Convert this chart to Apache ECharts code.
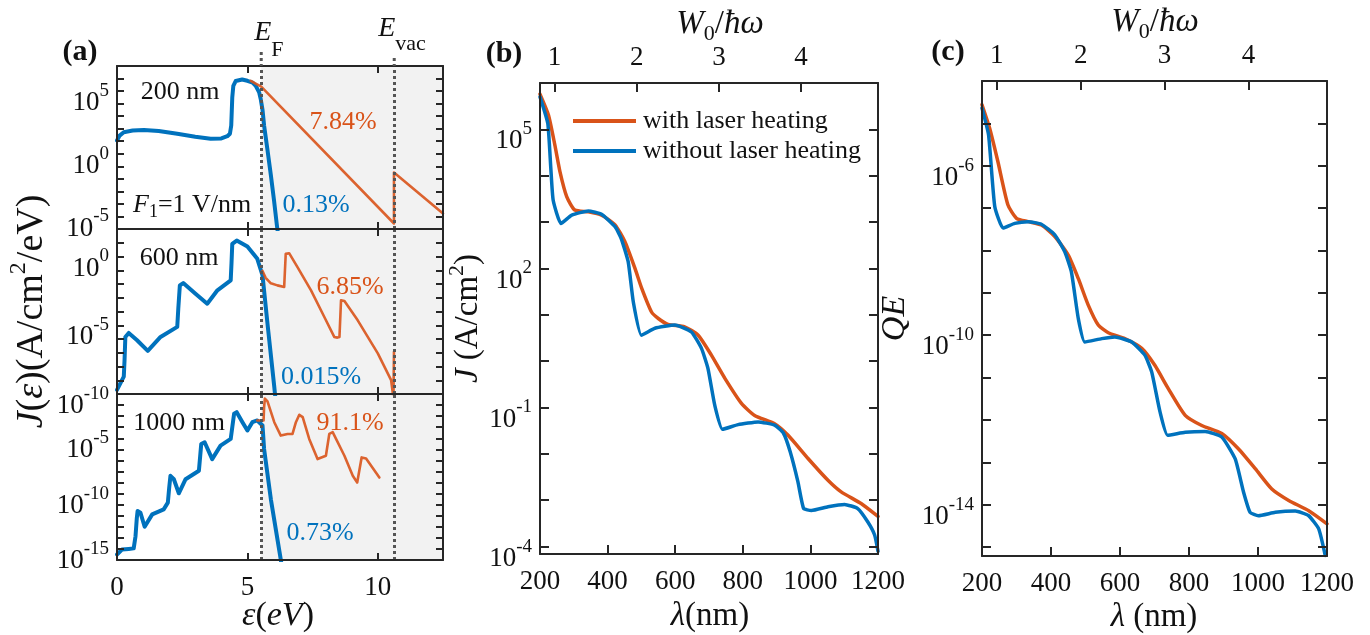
<!DOCTYPE html>
<html>
<head>
<meta charset="utf-8">
<script src="https://cdn.jsdelivr.net/npm/echarts@6/dist/echarts.min.js"></script>
<style>html,body{margin:0;padding:0;background:#fff}#c{width:1370px;height:635px}</style>
</head>
<body>
<div id="c"></div>
<script>
// ---------------- constants ----------------
const EF = 5.53, EVAC = 10.63;      // eV
const W0 = 5.1, HC = 1239.84;       // work function (eV), hc (eV nm)

// ---------------- panel (a): energy distributions, log10 J ----------------
const a200_blue_eV   = [0, 0.1, 0.26, 0.6, 1.03, 1.6, 2.31, 3.0, 3.59, 4.0, 4.23, 4.33, 4.38, 4.42, 4.46, 4.55, 4.62, 4.8, 5.0, 5.2, 5.32, 5.45, 5.51, 5.58, 5.64, 5.77, 5.90, 6.02, 6.13, 6.2];
const a200_blue_log  = [1.06, 1.45, 1.72, 1.85, 1.90, 1.82, 1.59, 1.35, 1.19, 1.22, 1.40, 1.6, 2.25, 4.5, 5.42, 5.8, 5.90, 5.92, 5.82, 5.68, 5.42, 4.9, 4.37, 3.5, 2.25, 0.3, -1.72, -3.7, -5.69, -6.8];
const a200_orange_eV  = [5.13, 5.3, 5.53, 10.62, 10.62, 12.5];
const a200_orange_log = [5.82, 5.62, 5.35, -5.56, -1.5, -4.76];

const a600_blue_eV   = [0, 0.26, 0.29, 0.32, 0.45, 0.77, 1.18, 1.67, 2.31, 2.35, 2.41, 2.54, 3.01, 3.46, 3.85, 4.36, 4.39, 4.42, 4.59, 5.0, 5.38, 5.58, 5.77, 6.03, 6.12];
const a600_blue_log  = [-9.7, -8.74, -7.5, -5.85, -5.56, -6.09, -6.86, -5.85, -5.12, -3.8, -2.10, -1.93, -2.71, -3.43, -2.46, -1.74, -0.5, 0.92, 1.16, 0.72, -0.17, -1.38, -4.88, -9.47, -11.2];
const a600_orange_eV  = [5.58, 5.7, 5.9, 6.15, 6.41, 6.44, 6.47, 6.6, 6.92, 7.44, 7.95, 8.33, 8.45, 8.53, 8.59, 8.72, 9.23, 10.0, 10.51, 10.6, 10.62, 10.62];
const a600_orange_log = [-1.05, -1.55, -1.95, -2.1, -2.22, -1.0, 0.19, 0.24, -0.77, -2.46, -4.40, -5.85, -5.9, -5.85, -3.19, -3.24, -4.64, -7.05, -8.99, -10.3, -10.3, -6.93];

const a1000_blue_eV  = [0, 0.19, 0.45, 0.64, 0.71, 0.76, 0.79, 0.9, 1.06, 1.35, 1.79, 1.95, 2.0, 2.05, 2.18, 2.37, 2.63, 3.14, 3.19, 3.23, 3.36, 3.65, 3.97, 4.36, 4.42, 4.49, 4.59, 4.81, 5.0, 5.19, 5.38, 5.58, 5.64, 5.9, 6.28, 6.35];
const a1000_blue_log = [-15.5, -15.06, -15.0, -14.95, -13.85, -12.2, -11.58, -11.73, -13.0, -11.88, -11.42, -10.82, -9.5, -8.39, -8.70, -9.97, -8.70, -7.94, -6.6, -5.52, -5.36, -6.88, -5.67, -5.06, -4.0, -2.79, -2.64, -3.55, -4.30, -3.55, -3.39, -3.85, -5.97, -10.52, -15.97, -17];
const a1000_orange_eV  = [5.38, 5.62, 5.64, 5.67, 5.77, 6.03, 6.28, 6.54, 6.73, 6.86, 6.99, 7.12, 7.37, 7.69, 8.01, 8.14, 8.27, 8.72, 9.04, 9.21, 9.38, 9.55, 10.06];
const a1000_orange_log = [-3.39, -3.39, -2.2, -1.42, -1.67, -3.55, -4.76, -4.61, -4.61, -3.55, -2.88, -3.09, -5.06, -6.88, -6.58, -4.61, -4.45, -6.58, -8.39, -9.0, -6.73, -6.82, -8.55];

// ---------------- panel (b): J (A/cm^2), log10 ----------------
const b_with_nm   = [200, 225, 244, 259, 279, 303, 343, 382, 422, 451, 481, 501, 530, 550, 579, 628, 668, 707, 747, 796, 835, 894, 934, 993, 1052, 1091, 1150, 1200];
const b_with_log  = [5.76, 5.31, 4.66, 4.09, 3.55, 3.26, 3.22, 3.15, 2.94, 2.58, 2.0, 1.57, 1.06, 0.92, 0.79, 0.74, 0.56, 0.13, -0.37, -0.91, -1.17, -1.35, -1.60, -2.10, -2.57, -2.82, -3.07, -3.35];
const b_without_nm  = [200, 223, 232, 239, 262, 294, 343, 382, 422, 440, 461, 476, 500, 540, 599, 648, 678, 697, 717, 740, 786, 845, 894, 920, 940, 963, 980, 1003, 1052, 1101, 1140, 1170, 1190, 1200];
const b_without_log = [5.70, 5.13, 4.16, 3.47, 2.97, 3.15, 3.24, 3.17, 2.90, 2.65, 2.14, 1.28, 0.56, 0.71, 0.78, 0.63, 0.27, -0.16, -0.95, -1.47, -1.37, -1.31, -1.38, -1.55, -1.95, -2.6, -3.18, -3.22, -3.14, -3.09, -3.18, -3.47, -3.75, -4.1];

// ---------------- panel (c): QE, log10 ----------------
const c_with_nm   = [200, 222, 246, 275, 300, 334, 372, 411, 450, 479, 508, 537, 566, 614, 663, 701, 740, 789, 837, 895, 943, 992, 1040, 1089, 1147, 1200];
const c_with_log  = [-4.56, -5.11, -5.90, -6.92, -7.24, -7.32, -7.40, -7.67, -8.11, -8.66, -9.29, -9.76, -9.94, -10.08, -10.31, -10.71, -11.26, -11.89, -12.13, -12.32, -12.68, -13.15, -13.63, -13.90, -14.14, -14.45];
const c_without_nm  = [200, 219, 237, 261, 295, 334, 372, 411, 440, 459, 479, 498, 547, 585, 634, 672, 692, 716, 738, 789, 847, 895, 934, 958, 977, 1001, 1050, 1108, 1147, 1176, 1195];
const c_without_log = [-4.64, -5.27, -6.96, -7.47, -7.36, -7.32, -7.38, -7.63, -8.03, -8.50, -9.60, -10.16, -10.08, -10.04, -10.16, -10.47, -10.87, -11.81, -12.36, -12.29, -12.27, -12.40, -12.92, -13.70, -14.18, -14.26, -14.18, -14.15, -14.26, -14.57, -15.20];

// ---------------- ticks ----------------
const aXTicks = [5, 10], aXLabels = [0, 5, 10];
const a1YTicks = [-5, -4, -3, -2, -1, 0, 1, 2, 3, 4, 5, 6], a1YLabels = [-5, 0, 5];
const a2YTicks = [-9, -8, -7, -6, -5, -4, -3, -2, -1, 0, 1], a2YLabels = [-10, -5, 0];
const a3YTicks = [-15, -14, -13, -12, -11, -10, -9, -8, -7, -6, -5, -4, -3, -2], a3YLabels = [-15, -10, -5];
const bYTicks = [-4, -3, -2, -1, 0, 1, 2, 3, 4, 5], bYLabels = [-4, -1, 2, 5];
const cYTicks = [-15, -14, -13, -12, -11, -10, -9, -8, -7, -6, -5], cYLabels = [-14, -10, -6];
const nmTicks = [400, 600, 800, 1000], nmLabels = [200, 400, 600, 800, 1000, 1200];
const wTicks = [1, 2, 3, 4], wLabels = [1, 2, 3, 4];

// ---------------- style ----------------
const FONT = '"Liberation Serif","Times New Roman",Times,serif';
const BLUE = '#0072BD', ORANGE = '#D95319', AX = '#262626', TXT = '#111111';

const RICH_Y = {
  b: {fontSize: 27, fontFamily: FONT, color: TXT, lineHeight: 27, verticalAlign: 'top', padding: [12, 0, 0, 0]},
  s: {fontSize: 19, fontFamily: FONT, color: TXT, lineHeight: 19, verticalAlign: 'top', padding: [4, 0, 0, 0]}
};
const plainNum = function (v) { return String(v); };

function baseAxis(gi, min, max, ticks, len) {
  return {
    type: 'value', gridIndex: gi, min: min, max: max, z: 6, silent: true,
    splitLine: {show: false}, minorTick: {show: false}, axisPointer: {show: false},
    axisLine: {show: true, onZero: false, lineStyle: {color: AX, width: 2}},
    axisTick: {show: true, inside: true, length: len, customValues: ticks, lineStyle: {color: AX, width: 2}}
  };
}
function xLabel(values, margin) {
  return {show: true, customValues: values, margin: margin, fontSize: 27, fontFamily: FONT, color: TXT, formatter: plainNum};
}
function xPair(gi, min, max, ticks, len, labels) {
  const b = Object.assign(baseAxis(gi, min, max, ticks, len), {position: 'bottom',
    axisLabel: labels ? xLabel(labels, 14) : {show: false}});
  const t = Object.assign(baseAxis(gi, min, max, ticks, len), {position: 'top', axisLabel: {show: false}});
  return [b, t];
}
function nameRich(size, supSize, mainPad) {
  const base = {fontFamily: FONT, color: TXT, fill: TXT, verticalAlign: 'top'};
  return {
    n: Object.assign({}, base, {fontSize: size, lineHeight: size, padding: [mainPad, 0, 0, 0]}),
    i: Object.assign({}, base, {fontSize: size, lineHeight: size, fontStyle: 'italic', padding: [mainPad, 0, 0, 0]}),
    s: Object.assign({}, base, {fontSize: supSize, lineHeight: supSize, padding: [0, 0, 0, 0]})
  };
}
function yPair(gi, min, max, ticks, labels, len, name) {
  const l = Object.assign(baseAxis(gi, min, max, ticks, len), {position: 'left',
    axisLabel: {show: true, customValues: labels, margin: 8, formatter: function (v) { return '{b|10}{s|' + Math.round(v) + '}'; }, rich: RICH_Y}});
  if (name) {
    Object.assign(l, {name: name.text, nameLocation: 'middle', nameGap: name.gap, nameRotate: 90,
      nameTextStyle: {fontFamily: FONT, color: TXT, rich: name.rich}});
  }
  const r = Object.assign(baseAxis(gi, min, max, ticks, len), {position: 'right', axisLabel: {show: false}});
  return [l, r];
}

const grids = [
  {left: 117, top: 66, width: 326, height: 163},
  {left: 117, top: 229, width: 326, height: 165},
  {left: 117, top: 394, width: 326, height: 166},
  {left: 540, top: 83, width: 338, height: 471},
  {left: 982, top: 81, width: 345, height: 475}
].map(g => Object.assign({outerBoundsMode: 'none', containLabel: false, show: false}, g));

const xAxes = [].concat(
  xPair(0, 0, 12.5, aXTicks, 7, null),
  xPair(1, 0, 12.5, aXTicks, 7, null),
  xPair(2, 0, 12.5, aXTicks, 7, aXLabels)
);
[3, 4].forEach(gi => {
  const b = Object.assign(baseAxis(gi, 200, 1200, nmTicks, 9), {position: 'bottom', axisLabel: xLabel(nmLabels, 14)});
  const t = Object.assign(baseAxis(gi, 200 * W0 / HC, 1200 * W0 / HC, wTicks, 9), {position: 'top', axisLabel: xLabel(wLabels, 12)});
  xAxes.push(b, t);
});
const yAxes = [].concat(
  yPair(0, -6, 7, a1YTicks, a1YLabels, 7),
  yPair(1, -10, 2, a2YTicks, a2YLabels, 7,
    {text: '{i|J}{n|(}{i|ε}{n|)(A/cm}{s|2}{n|/eV)}', gap: 72, rich: nameRich(38, 24, 6)}),
  yPair(2, -16, -1, a3YTicks, a3YLabels, 7),
  yPair(3, -4.16, 6, bYTicks, bYLabels, 9,
    {text: '{i|J}{n| (A/cm}{s|2}{n|)}', gap: 57, rich: nameRich(33, 22, 6)}),
  yPair(4, -15.21, -4, cYTicks, cYLabels, 9,
    {text: '{i|QE}', gap: 70, rich: nameRich(34, 22, 0)})
);

function pairs(xs, ys) { return xs.map((x, i) => [x, ys[i]]); }
function line(name, gi, xs, ys, color, width, z, opacity, smooth) {
  return {type: 'line', name: name, xAxisIndex: 2 * gi, yAxisIndex: 2 * gi, data: pairs(xs, ys),
    showSymbol: false, symbol: 'none', clip: true, z: z, silent: true,
    smooth: smooth || false,
    lineStyle: {color: color, width: width, opacity: opacity || 1, join: 'round', cap: 'round'},
    itemStyle: {color: color}};
}
function shade(gi) {
  return {type: 'line', name: 'shade' + gi, xAxisIndex: 2 * gi, yAxisIndex: 2 * gi, data: [], silent: true,
    markArea: {silent: true, z: 1, itemStyle: {color: '#f2f2f2'}, data: [[{xAxis: EF}, {xAxis: 12.5}]]},
    markLine: {silent: true, z: 5, symbol: ['none', 'none'], label: {show: false},
      lineStyle: {color: '#555555', width: 3, type: [3, 3]}, data: [{xAxis: EF}, {xAxis: EVAC}]}};
}

const series = [
  shade(0), shade(1), shade(2),
  line('a200 blue', 0, a200_blue_eV, a200_blue_log, BLUE, 4, 2),
  line('a200 orange', 0, a200_orange_eV, a200_orange_log, ORANGE, 2.6, 3, 0.9),
  line('a600 blue', 1, a600_blue_eV, a600_blue_log, BLUE, 4, 2),
  line('a600 orange', 1, a600_orange_eV, a600_orange_log, ORANGE, 2.6, 3, 0.9),
  line('a1000 blue', 2, a1000_blue_eV, a1000_blue_log, BLUE, 4, 2),
  line('a1000 orange', 2, a1000_orange_eV, a1000_orange_log, ORANGE, 2.6, 3, 0.9),
  line('with laser heating', 3, b_with_nm, b_with_log, ORANGE, 3.5, 2, 1, 0.2),
  line('without laser heating', 3, b_without_nm, b_without_log, BLUE, 3.5, 3, 1, 0.15),
  line('QE with laser heating', 4, c_with_nm, c_with_log, ORANGE, 3.5, 2, 1, 0.2),
  line('QE without laser heating', 4, c_without_nm, c_without_log, BLUE, 3.5, 3, 1, 0.15)
];

// ---------------- text (graphic) ----------------
function rich(size, subSize, mainPad, subPad, color) {
  const base = {fontFamily: FONT, fill: color || TXT, verticalAlign: 'top'};
  return {
    n: Object.assign({}, base, {fontSize: size, lineHeight: size, padding: [mainPad, 0, 0, 0]}),
    i: Object.assign({}, base, {fontSize: size, lineHeight: size, fontStyle: 'italic', padding: [mainPad, 0, 0, 0]}),
    s: Object.assign({}, base, {fontSize: subSize, lineHeight: subSize, padding: [subPad, 0, 0, 0]})
  };
}
function T(x, y, text, o) {
  return {type: 'text', x: x, y: y, silent: true, z: 10, rotation: (o && o.rotation) || 0,
    style: Object.assign({text: text, fontFamily: FONT, fontSize: 26, fill: TXT, align: 'center', verticalAlign: 'middle'}, (o && o.style) || {})};
}

const graphics = [
  T(80, 52, '(a)', {style: {fontSize: 30, fontWeight: 'bold'}}),
  T(504, 54, '(b)', {style: {fontSize: 30, fontWeight: 'bold'}}),
  T(948, 52, '(c)', {style: {fontSize: 30, fontWeight: 'bold'}}),
  T(278, 616, '{i|ε}{n|(}{i|eV}{n|)}', {style: {rich: rich(34, 22, 0, 0)}}),
  T(710, 616, '{i|λ}{n|(nm)}', {style: {rich: rich(33, 22, 0, 0)}}),
  T(1154, 617, '{i|λ}{n| (nm)}', {style: {rich: rich(33, 22, 0, 0)}}),
  T(720, 8, '{i|W}{s|0}{n|/}{i|ħω}', {style: {verticalAlign: 'top', rich: rich(33, 22, 0, 15)}}),
  T(1155, 6, '{i|W}{s|0}{n|/}{i|ħω}', {style: {verticalAlign: 'top', rich: rich(33, 22, 0, 15)}}),
  // panel (a) annotations
  T(180, 92, '200 nm'),
  T(343, 122, '7.84%', {style: {fill: ORANGE}}),
  T(133, 205, '{i|F}{s|1}{n|=1 V/nm}', {style: {align: 'left', rich: rich(26, 18, 0, 11)}}),
  T(316, 205, '0.13%', {style: {fill: BLUE}}),
  T(179, 258, '600 nm'),
  T(350, 287, '6.85%', {style: {fill: ORANGE}}),
  T(321, 377, '0.015%', {style: {fill: BLUE}}),
  T(179, 423, '1000 nm'),
  T(350, 423, '91.1%', {style: {fill: ORANGE}}),
  T(320, 533, '0.73%', {style: {fill: BLUE}})
];

const chart = echarts.init(document.getElementById('c'), null, {renderer: 'canvas'});
const option = {
  animation: false,
  backgroundColor: '#ffffff',
  textStyle: {fontFamily: FONT},
  grid: grids,
  xAxis: xAxes,
  yAxis: yAxes,
  legend: {
    show: true, data: ['with laser heating', 'without laser heating'], orient: 'vertical',
    left: 568, top: 103, itemWidth: 63, itemHeight: 4, itemGap: 4, icon: 'rect', selectedMode: false,
    textStyle: {fontSize: 26, fontFamily: FONT, color: TXT, lineHeight: 26, padding: [0, 0, 0, 2]}
  },
  series: series,
  graphic: {elements: graphics}
};
chart.setOption(option);

// dotted E_F / E_vac lines extend above panel (a), with their labels
const xEF = chart.convertToPixel({xAxisIndex: 0}, EF);
const xVac = chart.convertToPixel({xAxisIndex: 0}, EVAC);
const topA = grids[0].top;
const extra = [
  {type: 'line', silent: true, z: 10, shape: {x1: xEF, y1: topA - 14, x2: xEF, y2: topA}, style: {stroke: '#555555', lineWidth: 3, lineDash: [3, 3]}},
  {type: 'line', silent: true, z: 10, shape: {x1: xVac, y1: topA - 8, x2: xVac, y2: topA}, style: {stroke: '#555555', lineWidth: 3, lineDash: [3, 3]}},
  T(xEF - 7, 19, '{i|E}{s|F}', {style: {align: 'left', verticalAlign: 'top', rich: rich(28, 22, 0, 20)}}),
  T(xVac - 16, 15, '{i|E}{s|vac}', {style: {align: 'left', verticalAlign: 'top', rich: rich(28, 22, 0, 18)}})
];
chart.setOption({graphic: {elements: graphics.concat(extra)}});
</script>
</body>
</html>
